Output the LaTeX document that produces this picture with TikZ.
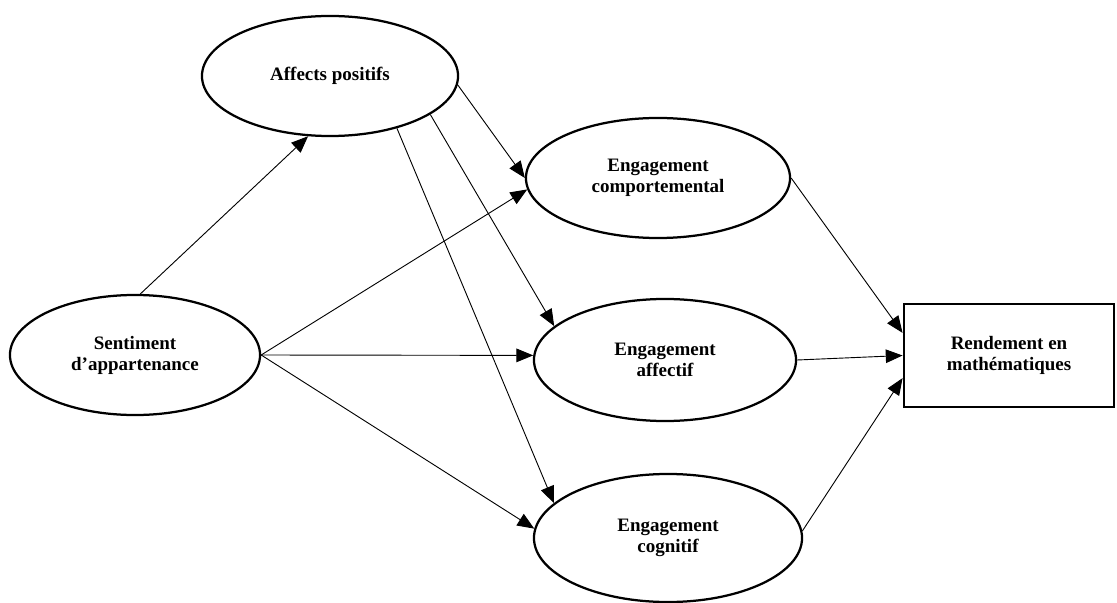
\documentclass[tikz,border=0pt]{standalone}
\usepackage{fontspec}
\setmainfont{Liberation Serif}
\usetikzlibrary{arrows.meta,shapes.geometric}
\tikzset{lat/.append style={draw,ellipse,line width=1.6pt,fill=white,inner sep=0pt,align=center,font=\bfseries\fontsize{13.5}{15}\selectfont}}
\tikzset{obs/.append style={draw,rectangle,line width=2pt,fill=white,inner sep=0pt,align=center,font=\bfseries\fontsize{13.5}{15}\selectfont}}
\tikzset{ar/.append style={line width=0.65pt,-{Triangle[length=0.42cm,width=0.34cm]}}}

\begin{document}
\begin{tikzpicture}[x=0.025cm,y=-0.025cm]
                \useasboundingbox (0,0) rectangle (1117,603);
                % latent variables
                \node[lat,minimum width=6.4cm,minimum height=3cm] (aff) at (330,76) {Affects positifs};
                \node[lat,minimum width=6.25cm,minimum height=3cm] (sent) at (135,355) {Sentiment\\d'appartenance};
                \node[lat,minimum width=6.6cm,minimum height=3cm] (comp) at (658,178) {Engagement\\comportemental};
                \node[lat,minimum width=6.55cm,minimum height=3.05cm] (affe) at (665,360) {Engagement\\affectif};
                \node[lat,minimum width=6.7cm,minimum height=3.2cm] (cogn) at (668,538) {Engagement\\cognitif};
                % outcome
                \node[obs,minimum width=5.25cm,minimum height=2.575cm] (rend) at (1009,355.5) {Rendement en\\math\'ematiques};
                \path (sent.85) edge[ar] (aff.-110);
                \path (sent.east) edge[ar] (comp.185) edge[ar] (affe.178) edge[ar] (cogn.176);
                \path (aff.-4) edge[ar] (comp.west);
                \path (aff.-21) edge[ar] (affe.163);
                \path (aff.-38) edge[ar] (cogn.163);
                \path (comp.east) edge[ar] (rend.168);
                \path (affe.east) edge[ar] (rend.west);
                \path (cogn.3) edge[ar] (rend.192);
            \end{tikzpicture}
\end{document}
